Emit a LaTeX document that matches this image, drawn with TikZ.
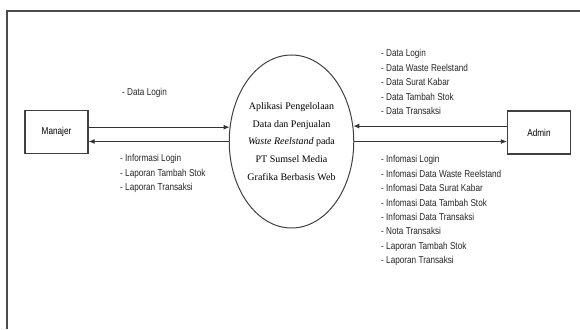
\documentclass[tikz,border=0pt]{standalone}
\usepackage{fontspec}
\usepackage{tikz}
\usetikzlibrary{shapes.geometric, arrows.meta}
\newfontfamily\sempit{Liberation Sans}[FakeStretch=0.82]
\newfontfamily\serifteks{Liberation Serif}

\begin{document}
\begin{tikzpicture}[x=1pt, y=-1pt,
    entitas/.style={draw=black!75, line width=1.1pt, minimum width=63pt, minimum height=43pt, inner sep=0pt, font=\sempit\fontsize{10}{12}\selectfont},
    arus/.style={draw=black!80, line width=1.1pt, >={Latex[length=6pt,width=5pt]}},
    keterangan/.style={inner sep=0pt, align=left, text=black!85, font=\sempit\fontsize{10}{14.4}\selectfont}]
            \useasboundingbox (0,0) rectangle (580,329);
            % Bingkai
            \draw[black!70, line width=1.3pt] (7,329) -- (7,11) -- (580,11);

            % Entitas luar
            \node[entitas] (manajer) at (56.5,132) {Manajer};
            \node[entitas] (admin) at (539,132.5) {Admin};

            % Proses
            \node[ellipse, draw=black!75, line width=1pt, minimum width=113pt, minimum height=173pt, inner sep=0pt, align=center,
                  font=\serifteks\fontsize{10}{17.8}\selectfont] (proses) at (291.5,141.5)
                  {Aplikasi Pengelolaan\\Data dan Penjualan\\\textit{Waste Reelstand} pada\\PT Sumsel Media\\Grafika Berbasis Web};

            % Arus data
            \draw[arus, ->] (manajer.east |- proses.167) -- (proses.167);
            \draw[arus, ->] (proses.180) -- (manajer.east |- proses.180);
            \draw[arus, ->] (admin.west |- proses.14) -- (proses.14);
            \draw[arus, ->] (proses.0) -- (admin.west |- proses.0);

            % Keterangan
            \node[keterangan, anchor=west] (dataManajer) at (122,93) {- Data Login};
            \node[keterangan, anchor=north west] (infoManajer) at (120,154.5) {- Informasi Login\\- Laporan Tambah Stok\\- Laporan Transaksi};
            \node[keterangan, anchor=north west] (dataAdmin) at (381,49.5) {- Data Login\\- Data Waste Reelstand\\- Data Surat Kabar\\- Data Tambah Stok\\- Data Transaksi};
            \node[keterangan, anchor=north west] (infoAdmin) at (381,155.5) {- Infomasi Login\\- Infomasi Data Waste Reelstand\\- Infomasi Data Surat Kabar\\- Infomasi Data Tambah Stok\\- Infomasi Data Transaksi\\- Nota Transaksi\\- Laporan Tambah Stok\\- Laporan Transaksi};
        \end{tikzpicture}
\end{document}
